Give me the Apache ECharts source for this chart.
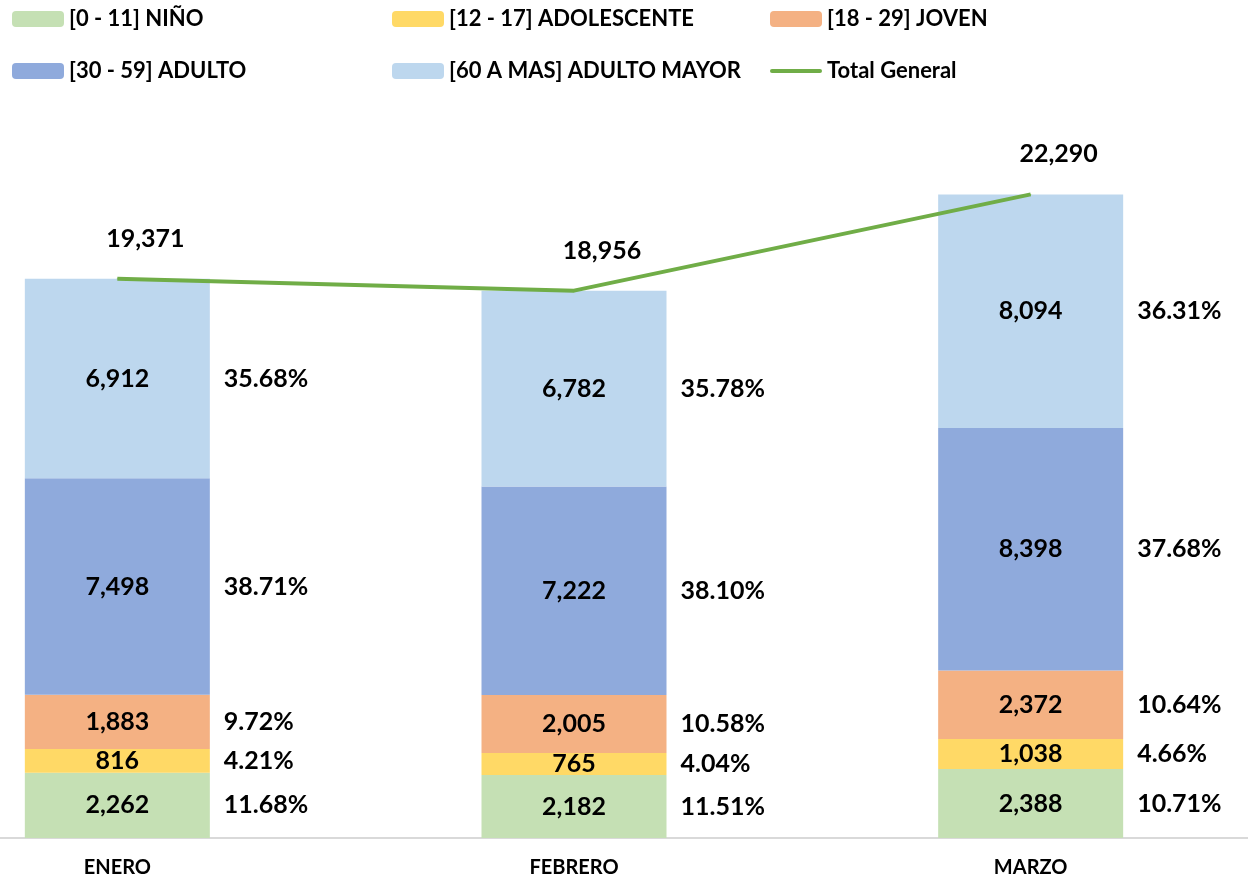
<!DOCTYPE html>
<html>
<head>
<meta charset="utf-8">
<script src="https://cdn.jsdelivr.net/npm/echarts@6/dist/echarts.min.js"></script>
<style>
  html, body { margin: 0; padding: 0; background: #fff; }
  #chart { width: 1248px; height: 881px; }
</style>
</head>
<body>
<div id="chart"></div>
<script>
// datos
var meses = ['ENERO', 'FEBRERO', 'MARZO'];
var grupos = ['[0 - 11] NIÑO', '[12 - 17] ADOLESCENTE', '[18 - 29] JOVEN', '[30 - 59] ADULTO', '[60 A MAS] ADULTO MAYOR'];
var nino = [2262, 2182, 2388];
var adolescente = [816, 765, 1038];
var joven = [1883, 2005, 2372];
var adulto = [7498, 7222, 8398];
var adultoMayor = [6912, 6782, 8094];
var totalGeneral = [19371, 18956, 22290];
var pctNino = ['11.68%', '11.51%', '10.71%'];
var pctAdolescente = ['4.21%', '4.04%', '4.66%'];
var pctJoven = ['9.72%', '10.58%', '10.64%'];
var pctAdulto = ['38.71%', '38.10%', '37.68%'];
var pctAdultoMayor = ['35.68%', '35.78%', '36.31%'];

var colores = ['#c5e0b4', '#ffd966', '#f4b183', '#8faadc', '#bdd7ee'];
var valores = [nino, adolescente, joven, adulto, adultoMayor];
var porcentajes = [pctNino, pctAdolescente, pctJoven, pctAdulto, pctAdultoMayor];
var fuente = 'Lato, "Open Sans", sans-serif';

var fmt = function(v) {
    return v.toLocaleString('en-US');
};

var series = [];
// barras visibles con valor dentro
valores.forEach(function(vals, i) {
    series.push({
        name: grupos[i],
        type: 'bar',
        stack: 'a',
        barWidth: 185,
        itemStyle: { color: colores[i] },
        label: {
            show: true,
            position: 'inside',
            color: '#000',
            fontFamily: fuente,
            fontWeight: 'bold',
            fontSize: 25,
            formatter: function(p) { return fmt(p.value); }
        },
        data: vals
    });
});
// barras invisibles para los porcentajes a la derecha
valores.forEach(function(vals, i) {
    series.push({
        name: 'pct' + i,
        type: 'bar',
        stack: 'b',
        barWidth: 185,
        barGap: '-100%',
        itemStyle: { color: 'rgba(0,0,0,0)' },
        silent: true,
        label: {
            show: true,
            position: 'right',
            distance: 14,
            color: '#000',
            fontFamily: fuente,
            fontWeight: 'bold',
            fontSize: 25,
            formatter: function(p) { return porcentajes[i][p.dataIndex]; }
        },
        data: vals
    });
});
series.push({
    name: 'Total General',
    type: 'line',
    symbol: 'circle',
    symbolSize: 1,
    lineStyle: { color: '#70ad47', width: 4 },
    itemStyle: { color: '#70ad47' },
    label: {
        show: true,
        position: 'top',
        offset: [28, -22],
        color: '#000',
        fontFamily: fuente,
        fontWeight: 'bold',
        fontSize: 25,
        formatter: function(p) { return fmt(p.value); }
    },
    data: totalGeneral
});

var leyendaBase = {
    orient: 'vertical',
    itemWidth: 52,
    itemHeight: 16,
    itemGap: 30,
    textStyle: { color: '#000', fontFamily: fuente, fontWeight: 'bold', fontSize: 22 }
};

var myChart = echarts.init(document.getElementById('chart'));
var option = {
    animation: false,
    legend: [
        Object.assign({}, leyendaBase, { left: 7, top: 3, data: [grupos[0], grupos[3]] }),
        Object.assign({}, leyendaBase, { left: 387, top: 3, data: [grupos[1], grupos[4]] }),
        Object.assign({}, leyendaBase, { left: 765, top: 3, data: [
            grupos[2],
            { name: 'Total General', icon: 'path://M2,0 L50,0 A2,2 0 0 1 50,4 L2,4 A2,2 0 0 1 2,0 Z', itemStyle: { color: '#70ad47' } }
        ] })
    ],
    grid: {
        left: -111,
        width: 1370,
        top: 145,
        bottom: 43,
        outerBoundsMode: 'none',
        containLabel: false
    },
    xAxis: {
        type: 'category',
        data: meses,
        axisLine: { lineStyle: { color: '#d9d9d9', width: 2 } },
        axisTick: { show: false },
        axisLabel: {
            color: '#000',
            fontFamily: fuente,
            fontWeight: 'bold',
            fontSize: 20,
            margin: 20
        }
    },
    yAxis: {
        type: 'value',
        min: 0,
        max: 24000,
        show: false,
        splitLine: { show: false }
    },
    series: series
};
myChart.setOption(option);
</script>
</body>
</html>
